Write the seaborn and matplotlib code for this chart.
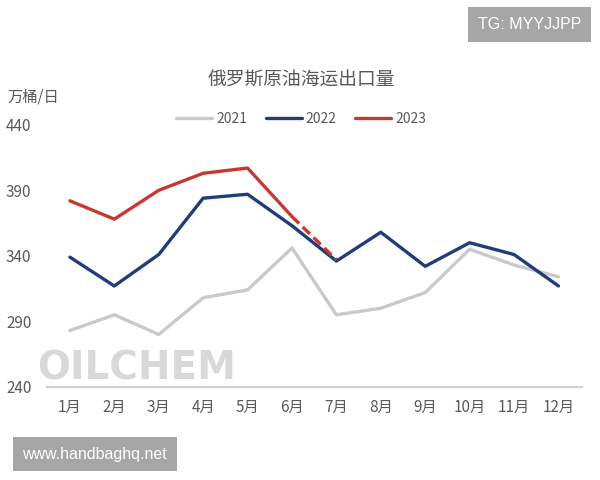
import numpy as np
import pandas as pd
import matplotlib
matplotlib.use("Agg")
import matplotlib.pyplot as plt
import seaborn as sns
from matplotlib.lines import Line2D

# data (万桶/日)
months = ["1月", "2月", "3月", "4月", "5月", "6月", "7月", "8月", "9月", "10月", "11月", "12月"]
v2021 = [283, 295, 280, 308, 314, 346, 295, 300, 312, 345, 333, 324]
v2022 = [339, 317, 341, 384, 387, 363, 336, 358, 332, 350, 341, 317]
v2023 = [382, 368, 390, 403, 407, 370]
v2023_est = [370, 337]  # dashed Jun -> Jul
yticks = [240, 290, 340, 390, 440]

sns.set_theme(style="white")
plt.rcParams['font.family'] = ['Noto Sans CJK SC', 'DejaVu Sans']

txt = "#595959"
colors = {"2021": "#c9c9c9", "2022": "#1f3d7c", "2023": "#c9382e"}

rows = []
for yr, vals in [("2021", v2021), ("2022", v2022), ("2023", v2023)]:
    for i, v in enumerate(vals):
        rows.append({"month": i + 1, "value": v, "year": yr})
df = pd.DataFrame(rows)
df_est = pd.DataFrame({"month": [6, 7], "value": v2023_est})

fig = plt.figure(figsize=(6, 4.8), dpi=100)
ax = fig.add_axes([0.078, 0.194, 0.892, 0.546])

sns.lineplot(data=df, x="month", y="value", hue="year", palette=colors,
             linewidth=2.4, ax=ax, legend=False)
sns.lineplot(data=df_est, x="month", y="value", color=colors["2023"],
             linewidth=2.4, linestyle=(0, (3, 1.5)), ax=ax)

ax.set_xlim(0.48, 12.53)
ax.set_ylim(240, 440)
ax.set_xticks(range(1, 13))
ax.set_xticklabels(months)
ax.set_yticks(yticks)
ax.tick_params(axis="both", length=0, labelsize=11, labelcolor=txt)
ax.tick_params(axis="y", pad=11)
ax.tick_params(axis="x", pad=9)
ax.set_xlabel("")
ax.set_ylabel("")
for s in ["top", "right", "left"]:
    ax.spines[s].set_visible(False)
ax.spines["bottom"].set_color("#d0d0d0")
ax.spines["bottom"].set_linewidth(1.5)

# title, unit, legend
fig.text(0.502, 0.833, "俄罗斯原油海运出口量", ha="center", va="center", fontsize=13.5, color=txt)
fig.text(0.012, 0.798, "万桶/日", ha="left", va="center", fontsize=11, color=txt)
handles = [Line2D([], [], color=colors[k], linewidth=2.4) for k in ["2021", "2022", "2023"]]
fig.legend(handles, ["2021", "2022", "2023"], loc="center", bbox_to_anchor=(0.502, 0.752),
           ncol=3, frameon=False, fontsize=10, labelcolor=txt, handlelength=2.6,
           handletextpad=0.3, columnspacing=1.3)

# watermarks
fig.text(0.228, 0.232, "OILCHEM", ha="center", va="center", fontsize=28, fontweight="bold",
         color="#bfbfbf", alpha=0.6, family="DejaVu Sans")
fig.text(0.8825, 0.949, "TG: MYYJJPP", ha="center", va="center", fontsize=11.5, color="white",
         family="Liberation Sans",
         bbox=dict(boxstyle="square,pad=0.6", facecolor="#a6a6a6", edgecolor="none"))
fig.text(0.158, 0.054, "www.handbaghq.net", ha="center", va="center", fontsize=11.5, color="white",
         family="Liberation Sans",
         bbox=dict(boxstyle="square,pad=0.6", facecolor="#a6a6a6", edgecolor="none"))

fig.savefig("out.png", dpi=100)
